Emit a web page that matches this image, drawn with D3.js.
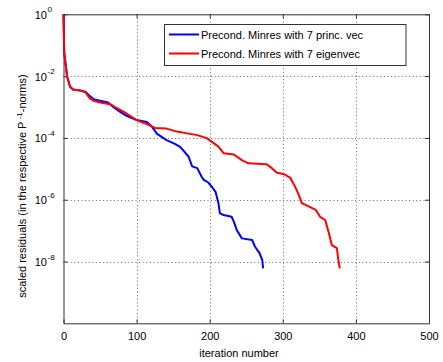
<!DOCTYPE html>
<html><head><meta charset="utf-8">
<script src="https://cdn.jsdelivr.net/npm/d3@7"></script>
<style>body{margin:0;background:#fff}svg{display:block}text{font-family:"Liberation Sans",Arial,sans-serif}</style>
</head><body>
<svg id="c" width="443" height="362"></svg>
<script>
const seriesNames = ["Precond. Minres with 7 princ. vec", "Precond. Minres with 7 eigenvec"];
const seriesColors = ["#0000ff", "#ff0000"];
const blueIter = [0,1,3,5,9,13,23,30,34,41,50,61,68,77,87,100,114,121,128,141,153,160,171,176,183,189,192,198,203,208,212,214,219,230,233,237,244,258,262,268,272,273];
const blueRes = [1,5.6e-2,2.3e-2,9.5e-3,4.5e-3,3.7e-3,3.4e-3,3.1e-3,2.5e-3,1.8e-3,1.6e-3,1.4e-3,1.0e-3,7.1e-4,5.1e-4,3.8e-4,3.3e-4,2.3e-4,1.35e-4,8.5e-5,6.3e-5,5.0e-5,2.5e-5,1.2e-5,1.05e-5,5.5e-6,4.4e-6,3.6e-6,2.6e-6,1.8e-6,7.6e-7,3.6e-7,3.2e-7,2.8e-7,1.95e-7,1.05e-7,5.6e-8,5.0e-8,3.0e-8,1.9e-8,1.1e-8,6.0e-9];
const redIter = [0,1,3,5,9,13,23,30,36,41,50,64,71,82,100,114,125,141,155,169,183,196,205,212,219,233,244,253,278,285,292,301,310,317,322,326,334,345,351,358,363,367,374,376,378];
const redRes = [1,5.6e-2,2.3e-2,9.5e-3,4.5e-3,3.7e-3,3.4e-3,3.0e-3,1.9e-3,1.6e-3,1.4e-3,1.23e-3,9.8e-4,7.1e-4,3.8e-4,2.8e-4,2.1e-4,2.0e-4,1.6e-4,1.4e-4,1.23e-4,9.8e-5,6.9e-5,5.2e-5,3.2e-5,2.9e-5,1.9e-5,1.5e-5,1.4e-5,1.05e-5,7.4e-6,6.8e-6,5.2e-6,2.6e-6,1.4e-6,7.8e-7,6.3e-7,4.7e-7,2.8e-7,2.2e-7,8.3e-8,3.4e-8,2.7e-8,1.1e-8,6.0e-9];
const xTicks = [0,100,200,300,400,500];
const yTickExps = [0,-2,-4,-6,-8];
const yGridExps = [-2,-4,-6,-8];
const xTitle = "iteration number";

const svg = d3.select("#c");
const L = 63.5, R = 429, T = 14.3, B = 323.3;
const x = d3.scaleLinear().domain([0,500]).range([L,R]);
const y = d3.scaleLog().domain([1e-10,1]).range([B,T]);

const grid = svg.append("g").attr("stroke","#444").attr("stroke-width",0.8).attr("stroke-dasharray","1,2.6");
grid.selectAll("line.v").data(xTicks.slice(1,-1)).enter().append("line")
  .attr("x1",d=>Math.round(x(d))+0.5).attr("x2",d=>Math.round(x(d))+0.5).attr("y1",T).attr("y2",B);
grid.selectAll("line.h").data(yGridExps).enter().append("line")
  .attr("y1",d=>Math.round(y(Math.pow(10,d)))+0.5).attr("y2",d=>Math.round(y(Math.pow(10,d)))+0.5).attr("x1",L).attr("x2",R);

// axes with D3 axis generators
const xb = svg.append("g").attr("transform",`translate(0,${B})`)
  .call(d3.axisBottom(x).tickValues(xTicks).tickSizeInner(-4).tickSizeOuter(0).tickPadding(9).tickFormat(d3.format("d")));
const xt = svg.append("g").attr("transform",`translate(0,${T})`)
  .call(d3.axisTop(x).tickValues(xTicks).tickSizeInner(-4).tickSizeOuter(0).tickFormat(""));
const yl = svg.append("g").attr("transform",`translate(${L},0)`)
  .call(d3.axisLeft(y).tickValues(yTickExps.map(e=>Math.pow(10,e))).tickSizeInner(-4).tickSizeOuter(0).tickFormat(""));
const yr = svg.append("g").attr("transform",`translate(${R},0)`)
  .call(d3.axisRight(y).tickValues(yTickExps.map(e=>Math.pow(10,e))).tickSizeInner(-4).tickSizeOuter(0).tickFormat(""));
[xb,xt,yl,yr].forEach(g=>{
  g.select(".domain").attr("stroke","#333").attr("stroke-width",1);
  g.selectAll(".tick line").attr("stroke","#333");
});
xb.selectAll(".tick text").attr("font-size",11).attr("fill","#000").attr("font-family","Liberation Sans, Arial, sans-serif");

// y tick labels as 10^exp
const yLab = svg.append("g");
yTickExps.forEach(e=>{
  const yy = y(Math.pow(10,e));
  const t = yLab.append("text").attr("x",47).attr("y",yy+4.5).attr("text-anchor","end").attr("font-size",11).text("10");
  yLab.append("text").attr("x",47.5).attr("y",yy-2).attr("font-size",8).text(String(e).replace("-","-"));
});

// lines
const line = d3.line().x(d=>x(d[0])).y(d=>y(d[1]));
const series = [d3.zip(blueIter,blueRes), d3.zip(redIter,redRes)];
svg.append("g").selectAll("path").data(series).enter().append("path")
  .attr("d",line).attr("fill","none").attr("stroke",(d,i)=>seriesColors[i])
  .attr("stroke-width",2).attr("stroke-linejoin","round");

// legend
const lg = svg.append("g");
lg.append("rect").attr("x",164.5).attr("y",24.5).attr("width",241.5).attr("height",41)
  .attr("fill","#fff").attr("stroke","#333").attr("stroke-width",1);
seriesNames.forEach((n,i)=>{
  const yy = 34.5 + i*19;
  lg.append("line").attr("x1",169).attr("x2",199).attr("y1",yy).attr("y2",yy).attr("stroke",seriesColors[i]).attr("stroke-width",2);
  lg.append("text").attr("x",201).attr("y",yy+4).attr("font-size",11).text(n);
});

// titles
svg.append("text").attr("x",239).attr("y",357).attr("text-anchor","middle").attr("font-size",11).text(xTitle);
const yt = svg.append("text").attr("transform","translate(26,186) rotate(-90)").attr("text-anchor","middle").attr("font-size",11);
yt.append("tspan").text("scaled residuals (in the respective P");
yt.append("tspan").attr("dy",-4).attr("font-size",8).text(" -1");
yt.append("tspan").attr("dy",4).text("-norms)");
</script>
</body></html>
